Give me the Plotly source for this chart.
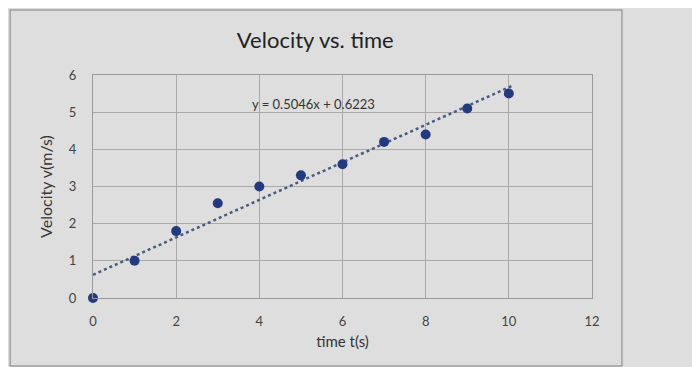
import numpy as np
import plotly.graph_objects as go

time_s = [0, 1, 2, 3, 4, 5, 6, 7, 8, 9, 10]
velocity = [0, 1.0, 1.8, 2.55, 3.0, 3.3, 3.6, 4.2, 4.4, 5.1, 5.5]
slope = 0.5046
intercept = 0.6223
x_ticks = [0, 2, 4, 6, 8, 10, 12]
y_ticks = [0, 1, 2, 3, 4, 5, 6]

trend_x = np.array([min(time_s), max(time_s) + 0.1])
trend_y = slope * trend_x + intercept

bg = "#dedede"
fig = go.Figure()
fig.add_trace(go.Scatter(
    x=trend_x, y=trend_y, mode="lines",
    line=dict(color="#4a5a80", width=2.5, dash="dot"),
    showlegend=False, hoverinfo="skip"))
fig.add_trace(go.Scatter(
    x=time_s, y=velocity, mode="markers",
    marker=dict(color="#233a80", size=10),
    showlegend=False, cliponaxis=False))

fig.update_layout(
    width=700, height=367,
    margin=dict(l=85, r=116, t=67, b=77, autoexpand=False),
    paper_bgcolor=bg, plot_bgcolor=bg,
    font=dict(family="Lato, Open Sans, sans-serif", color="#333333"),
    title=dict(text="Velocity vs. time", x=0.439, xanchor="center",
               y=0.913, yanchor="middle",
               font=dict(size=22, color="#222222")),
    xaxis=dict(range=[0, 12], tickvals=x_ticks, showgrid=True,
               gridcolor="#a9a9a9", gridwidth=1, zeroline=False,
               showline=True, linecolor="#9a9a9a", mirror=True,
               ticks="", tickfont=dict(size=13, color="#444444"),
               ticklabelstandoff=11,
               title=dict(text="time t(s)", font=dict(size=15, color="#333333"), standoff=8)),
    yaxis=dict(range=[0, 6], tickvals=y_ticks, showgrid=True,
               gridcolor="#a9a9a9", gridwidth=1, zeroline=False,
               showline=True, linecolor="#9a9a9a", mirror=True,
               ticks="", tickfont=dict(size=13, color="#444444"),
               ticklabelstandoff=13,
               title=dict(text="Velocity v(m/s)", font=dict(size=16, color="#333333"), standoff=12)),
    annotations=[dict(text="y = 0.5046x + 0.6223", x=5.3, y=5.22,
                      xref="x", yref="y", showarrow=False,
                      font=dict(size=13, color="#333333"))],
    shapes=[dict(type="rect", xref="paper", yref="paper",
                 x0=-0.166, x1=1.06, y0=-0.305, y1=1.291,
                 line=dict(color="#a0a0a0", width=1.5))],
)

fig.write_html("out.html")
